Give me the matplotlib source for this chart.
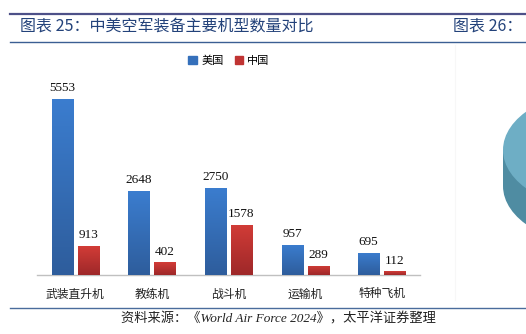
import numpy as np
import matplotlib
matplotlib.use("Agg")
import matplotlib.pyplot as plt
from matplotlib.colors import LinearSegmentedColormap
from matplotlib.patches import Ellipse, Polygon, Rectangle
from matplotlib.lines import Line2D

plt.rcParams['font.family'] = ['Noto Sans CJK SC', 'DejaVu Sans']

categories = ["武装直升机", "教练机", "战斗机", "运输机", "特种飞机"]
us_values = [5553, 2648, 2750, 957, 695]
cn_values = [913, 402, 1578, 289, 112]
series_names = ["美国", "中国"]
title = "图表 25：中美空军装备主要机型数量对比"
title2 = "图表 26："
source = "资料来源：《World Air Force 2024》，太平洋证券整理"

W, H = 526, 334
fig = plt.figure(figsize=(W / 100, H / 100), dpi=100)

def fx(px):
    return px / W

def fy(py):
    return 1 - py / H

# header lines and title
fig.add_artist(Line2D([fx(10), 1], [fy(13.5), fy(13.5)], color="#4d5088", lw=1.6))
fig.add_artist(Line2D([fx(10), 1], [fy(42), fy(42)], color="#3b5f93", lw=1.0))
fig.text(fx(20), fy(26), title, fontsize=11.5, fontweight="light", color="#23427a",
         va="center", ha="left")
fig.text(fx(453), fy(26), title2, fontsize=11.5, fontweight="light", color="#23427a",
         va="center", ha="left")

# faint separator
fig.add_artist(Line2D([fx(455), fx(455)], [fy(45), fy(300)], color="#f7f7f7", lw=0.8))

# bottom line and source
fig.add_artist(Line2D([fx(10), 1], [fy(308), fy(308)], color="#4a6c9c", lw=1.0))
fig.text(fx(436), fy(319), source, fontsize=9.5, style="italic",
         family=["Liberation Serif", "Noto Sans CJK SC"], color="#222222",
         va="center", ha="right")

# partial pie (next chart) on the right
pie_ax = fig.add_axes([0, 0, 1, 1], zorder=0)
pie_ax.set_xlim(0, W)
pie_ax.set_ylim(H, 0)
pie_ax.axis("off")
cx, cy, a, b, d = 603, 150, 100, 60, 36
side = Polygon([[cx - a, cy], [cx - a, cy + d], [cx + a, cy + d], [cx + a, cy]],
               closed=True, color="#4f8ca2", lw=0)
pie_ax.add_patch(side)
pie_ax.add_patch(Ellipse((cx, cy + d), 2 * a, 2 * b, color="#4f8ca2", lw=0))
pie_ax.add_patch(Ellipse((cx, cy), 2 * a, 2 * b, color="#6eaec5", lw=0))

# main chart
ax = fig.add_axes([fx(37), 1 - 275 / H, 383 / W, 200 / H], zorder=1)
ax.patch.set_alpha(0)
x = np.arange(len(categories))
w = 0.275
off = 0.17

blue_cmap = LinearSegmentedColormap.from_list("b", ["#2e5d9c", "#3b7dcf"])
red_cmap = LinearSegmentedColormap.from_list("r", ["#9e2829", "#d23c37"])
grad = np.linspace(0, 1, 128).reshape(-1, 1)

def grad_bars(xs, vals, cmap, color):
    bars = ax.bar(xs, vals, width=w, color=color, zorder=2, lw=0)
    for bar in bars:
        x0 = bar.get_x()
        x1 = x0 + bar.get_width()
        h = bar.get_height()
        im = ax.imshow(grad, extent=[x0, x1, 0, h], origin="lower",
                       aspect="auto", cmap=cmap, zorder=3)
        im.set_clip_path(bar)
    return bars

grad_bars(x - off, us_values, blue_cmap, "#3570bb")
grad_bars(x + off, cn_values, red_cmap, "#c03433")

for xi, v in zip(x - off, us_values):
    ax.text(xi, v + 150, str(v), ha="center", va="bottom", fontsize=9.5,
            family="Liberation Serif", color="#111111")
for xi, v in zip(x + off, cn_values):
    ax.text(xi, v + 150, str(v), ha="center", va="bottom", fontsize=9.5,
            family="Liberation Serif", color="#111111")

ax.set_xlim(-0.5, len(categories) - 0.5)
ax.set_ylim(0, 6310)
ax.set_xticks(x)
ax.set_xticklabels(categories, fontsize=8.5, color="#222222")
ax.tick_params(axis="x", length=0, pad=9)
ax.set_yticks([])
for s in ["top", "right", "left"]:
    ax.spines[s].set_visible(False)
ax.spines["bottom"].set_color("#c0c0c0")
ax.spines["bottom"].set_linewidth(1.0)

# legend
handles = [Rectangle((0, 0), 1, 1, color="#3570bb"), Rectangle((0, 0), 1, 1, color="#c03433")]
fig.legend(handles, series_names, loc="center", bbox_to_anchor=(fx(229), fy(61)),
           ncol=2, frameon=False, fontsize=8, handlelength=0.75, handleheight=0.75,
           handletextpad=0.4, columnspacing=1.0)

fig.savefig("out.png", dpi=100)
